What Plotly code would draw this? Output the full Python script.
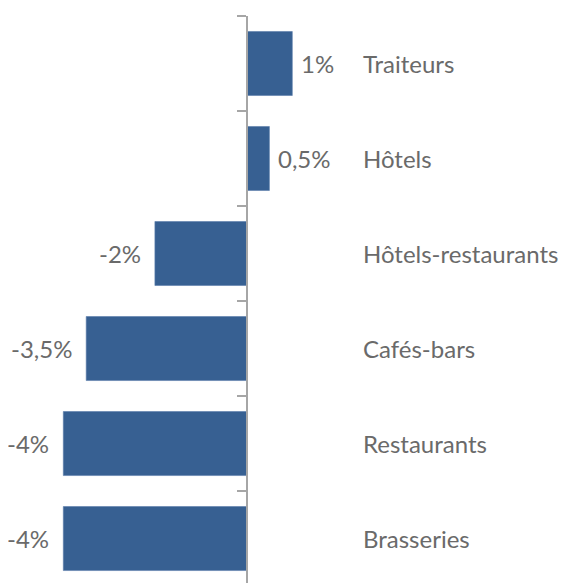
import plotly.graph_objects as go

categories = ["Traiteurs", "Hôtels", "Hôtels-restaurants", "Cafés-bars", "Restaurants", "Brasseries"]
values = [1, 0.5, -2, -3.5, -4, -4]
value_labels = ["1%", "0,5%", "-2%", "-3,5%", "-4%", "-4%"]

FONT = "Lato"
TXT = "#6a6a6a"
BAR = "#376092"
FS = 24

fig = go.Figure(go.Bar(
    x=values, y=categories, orientation="h",
    marker=dict(color=BAR, line=dict(color="#5a7cab", width=0.6)),
    hoverinfo="skip",
))

ann = []
for c, v, t in zip(categories, values, value_labels):
    ann.append(dict(x=v, y=c, xref="x", yref="y", text=t, showarrow=False,
                    xanchor="left" if v > 0 else "right",
                    xshift=7 if v > 0 else -12,
                    font=dict(family=FONT, size=FS, color=TXT)))
    ann.append(dict(x=2.5, y=c, xref="x", yref="y", text=c, showarrow=False,
                    xanchor="left", font=dict(family=FONT, size=FS, color=TXT)))

W, H = 560, 575
zero_px = 238.5
ppu = 45.8
fig.update_layout(
    width=W, height=H,
    margin=dict(l=0, r=0, t=8, b=0),
    plot_bgcolor="white", paper_bgcolor="white",
    bargap=0.326, showlegend=False,
    xaxis=dict(visible=False, range=[-zero_px / ppu, (W - zero_px) / ppu], domain=[0, 1]),
    yaxis=dict(type="category", categoryarray=categories, range=[5.468, -0.5],
               showticklabels=False, showgrid=False, zeroline=False,
               showline=True, linecolor="#a6a6a6", linewidth=2,
               ticks="outside", tickson="boundaries", ticklen=9,
               tickcolor="#a6a6a6", tickwidth=2,
               anchor="free", position=zero_px / W),
    annotations=ann,
)
fig.write_html("out.html")
